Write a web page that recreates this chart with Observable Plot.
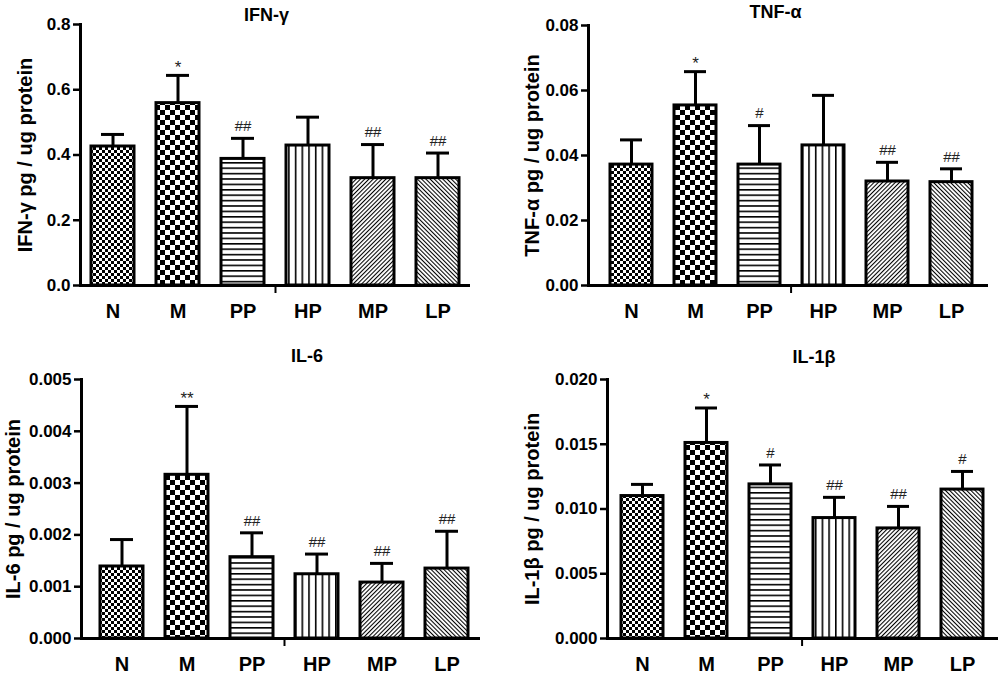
<!DOCTYPE html>
<html><head><meta charset="utf-8">
<script src="https://cdn.jsdelivr.net/npm/d3@7"></script>
<script src="https://cdn.jsdelivr.net/npm/@observablehq/plot@0.6"></script>
<style>
body{margin:0;background:#fff;}
#wrap{position:relative;width:1000px;height:676px;overflow:hidden;background:#fff;}
.panel{position:absolute;}
</style></head><body>
<svg width="0" height="0" style="position:absolute">
<defs>
<pattern id="pN" patternUnits="userSpaceOnUse" width="6" height="6"><rect width="6" height="6" fill="#fff"/><rect width="3" height="3" fill="#000"/><rect x="3" y="3" width="3" height="3" fill="#000"/></pattern>
<pattern id="pM" patternUnits="userSpaceOnUse" width="10" height="10"><rect width="10" height="10" fill="#fff"/><rect width="5" height="5" fill="#000"/><rect x="5" y="5" width="5" height="5" fill="#000"/></pattern>
<pattern id="pPP" patternUnits="userSpaceOnUse" width="10" height="5.4"><rect width="10" height="5.4" fill="#fff"/><rect y="0" width="10" height="1.6" fill="#000"/></pattern>
<pattern id="pHP" patternUnits="userSpaceOnUse" width="6.7" height="10"><rect width="6.7" height="10" fill="#fff"/><rect x="0" width="1.6" height="10" fill="#000"/></pattern>
<pattern id="pMP" patternUnits="userSpaceOnUse" width="3" height="10" patternTransform="rotate(45)"><rect width="3" height="10" fill="#fff"/><rect width="1.05" height="10" fill="#000"/></pattern>
<pattern id="pLP" patternUnits="userSpaceOnUse" width="3" height="10" patternTransform="rotate(-45)"><rect width="3" height="10" fill="#fff"/><rect width="1.05" height="10" fill="#000"/></pattern>
</defs></svg>
<div id="wrap"></div>
<script>
// ---- data ----
const groups = ["N", "M", "PP", "HP", "MP", "LP"];

const ifnMean = [0.426, 0.559, 0.388, 0.429, 0.329, 0.329];
const ifnErr  = [0.037, 0.085, 0.063, 0.087, 0.103, 0.077];
const ifnSig  = ["", "*", "##", "", "##", "##"];
const ifnTicks = [0, 0.2, 0.4, 0.6, 0.8];

const tnfMean = [0.0372, 0.0554, 0.0372, 0.0431, 0.0320, 0.0318];
const tnfErr  = [0.0076, 0.0104, 0.0120, 0.0154, 0.0059, 0.0041];
const tnfSig  = ["", "*", "#", "", "##", "##"];
const tnfTicks = [0, 0.02, 0.04, 0.06, 0.08];

const il6Mean = [0.00139, 0.00316, 0.00157, 0.00124, 0.00108, 0.00135];
const il6Err  = [0.00052, 0.00132, 0.00047, 0.00039, 0.00037, 0.00072];
const il6Sig  = ["", "**", "##", "##", "##", "##"];
const il6Ticks = [0, 0.001, 0.002, 0.003, 0.004, 0.005];

const il1bMean = [0.0110, 0.0151, 0.0119, 0.0093, 0.0085, 0.0115];
const il1bErr  = [0.0009, 0.0027, 0.0015, 0.0016, 0.0017, 0.0014];
const il1bSig  = ["", "*", "#", "##", "##", "#"];
const il1bTicks = [0, 0.005, 0.010, 0.015, 0.020];

// ---- layout ----
const panels = [
  {title: "IFN-\u03b3", ylab: "IFN-\u03b3 pg / ug protein", mean: ifnMean, err: ifnErr, sig: ifnSig, ticks: ifnTicks, fmt: ".1f",
   left: 0, top: 0, width: 500, height: 330, mt: 24, mb: 45, ml: 80, mr: 30, xr: [80, 470], tdx: -9, tdy: -9, ldx: -55},
  {title: "TNF-\u03b1", ylab: "TNF-\u03b1 pg / ug protein", mean: tnfMean, err: tnfErr, sig: tnfSig, ticks: tnfTicks, fmt: ".2f",
   left: 500, top: 0, width: 500, height: 330, mt: 25, mb: 45, ml: 88, mr: 12, xr: [97, 486], tdx: -13, tdy: -13, ldx: -56},
  {title: "IL-6", ylab: "IL-6 pg / ug protein", mean: il6Mean, err: il6Err, sig: il6Sig, ticks: il6Ticks, fmt: ".3f",
   left: 0, top: 330, width: 500, height: 346, mt: 49, mb: 38, ml: 81, mr: 20, xr: [89, 479], tdx: 26, tdy: -23, ldx: -68},
  {title: "IL-1\u03b2", ylab: "IL-1\u03b2 pg / ug protein", mean: il1bMean, err: il1bErr, sig: il1bSig, ticks: il1bTicks, fmt: ".3f",
   left: 500, top: 330, width: 500, height: 346, mt: 49, mb: 38, ml: 107, mr: 2, xr: [108, 497], tdx: 11, tdy: -22, ldx: -75}
];

const wrap = document.getElementById("wrap");
const font = "'Liberation Sans', Arial, Helvetica, sans-serif";

for (const p of panels) {
  const data = groups.map((g, i) => ({g, mean: p.mean[i], err: p.err[i], sig: p.sig[i]}));
  const ymax = p.ticks[p.ticks.length - 1];
  const step = (p.xr[1] - p.xr[0]) / groups.length;
  const chart = Plot.plot({
    width: p.width, height: p.height,
    marginTop: p.mt, marginBottom: p.mb, marginLeft: p.ml, marginRight: p.mr,
    style: {fontFamily: font, fontWeight: "bold", color: "#000", background: "transparent", overflow: "visible"},
    x: {domain: groups, range: p.xr, paddingInner: 0.34, paddingOuter: 0.17},
    y: {domain: [0, ymax]},
    color: {type: "ordinal", domain: groups, range: groups.map(g => `url(#p${g})`)},
    marks: [
      Plot.barY(data, {x: "g", y: "mean", fill: "g", stroke: "#000", strokeWidth: 3}),
      Plot.ruleX(data, {x: "g", y1: "mean", y2: d => d.mean + d.err, stroke: "#000", strokeWidth: 3}),
      Plot.tickY(data, {x: "g", y: d => d.mean + d.err, stroke: "#000", strokeWidth: 3, insetLeft: 10, insetRight: 10}),
      Plot.text(data.filter(d => d.sig.includes("#")), {x: "g", y: d => d.mean + d.err, text: "sig", dy: -12, lineAnchor: "middle", fontSize: 15, fontWeight: "normal", fill: "#222"}),
      Plot.text(data.filter(d => d.sig.includes("*")), {x: "g", y: d => d.mean + d.err, text: "sig", dy: -8, lineAnchor: "middle", fontSize: 17, fontWeight: "normal", fill: "#222"}),
      Plot.ruleY([0], {stroke: "#000", strokeWidth: 3}),
      Plot.ruleX(["HP"], {x: d => d, y1: 0, y2: 0, insetBottom: -8, dx: -step / 2, stroke: "#000", strokeWidth: 2}),
      Plot.frame({anchor: "left", stroke: "#000", strokeWidth: 3}),
      Plot.axisY({ticks: p.ticks, tickFormat: d3.format(p.fmt), tickSize: 7, tickPadding: 3, fontSize: 17, strokeWidth: 2.5, label: null}),
      Plot.axisX({tickSize: 0, tickPadding: 18, fontSize: 20, label: null}),
      Plot.text([p.title], {text: d => d, frameAnchor: "top", dx: p.tdx, dy: p.tdy, lineAnchor: "middle", textAnchor: "middle", fontSize: 18}),
      Plot.text([p.ylab], {text: d => d, frameAnchor: "left", dx: p.ldx, rotate: -90, textAnchor: "middle", lineAnchor: "middle", fontSize: 20})
    ]
  });
  const div = document.createElement("div");
  div.className = "panel";
  div.style.left = p.left + "px";
  div.style.top = p.top + "px";
  div.appendChild(chart);
  wrap.appendChild(div);
}
</script>
</body></html>
